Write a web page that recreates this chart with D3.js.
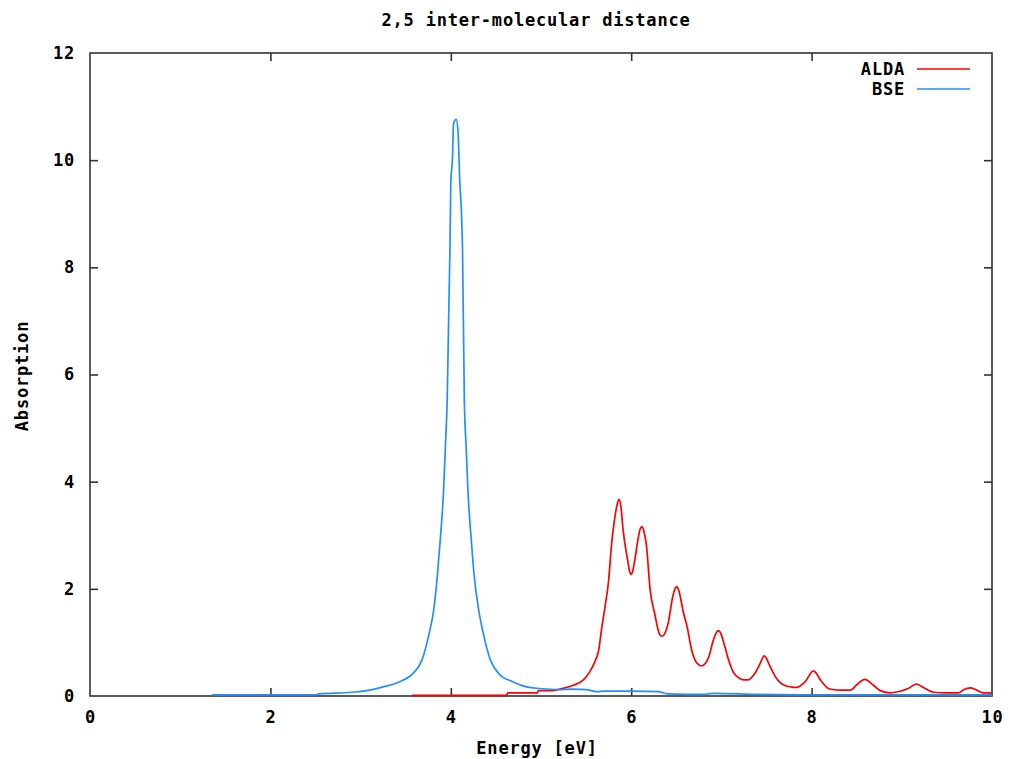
<!DOCTYPE html>
<html>
<head>
<meta charset="utf-8">
<script src="https://cdn.jsdelivr.net/npm/d3@7"></script>
<style>
  html, body { margin: 0; padding: 0; background: #fff; }
  svg text { font-family: "DejaVu Sans Mono", "Liberation Mono", monospace; font-weight: bold; fill: #000; }
</style>
</head>
<body>
<svg id="chart" width="1011" height="759"></svg>
<script>
const titleText = "2,5 inter-molecular distance";
const xLabel = "Energy [eV]";
const yLabel = "Absorption";
const seriesNames = ["ALDA", "BSE"];
const xTicks = [0, 2, 4, 6, 8, 10];
const yTicks = [0, 2, 4, 6, 8, 10, 12];

const aldaEnergy = [3.57, 4.62, 4.63, 4.96, 4.97, 5.13, 5.21, 5.36, 5.47, 5.54, 5.60, 5.64, 5.67, 5.71, 5.75, 5.78, 5.82, 5.845, 5.865, 5.885, 5.91, 5.96, 5.985, 6.00, 6.015, 6.04, 6.08, 6.10, 6.12, 6.14, 6.17, 6.21, 6.26, 6.31, 6.33, 6.35, 6.37, 6.41, 6.46, 6.485, 6.505, 6.525, 6.58, 6.62, 6.67, 6.73, 6.78, 6.86, 6.91, 6.95, 6.97, 6.99, 7.03, 7.08, 7.13, 7.21, 7.25, 7.29, 7.37, 7.43, 7.475, 7.54, 7.61, 7.71, 7.77, 7.83, 7.93, 8.02, 8.11, 8.20, 8.31, 8.43, 8.50, 8.59, 8.68, 8.76, 8.87, 8.96, 9.07, 9.16, 9.26, 9.35, 9.50, 9.63, 9.68, 9.76, 9.83, 9.90, 9.97, 10.0];
const aldaAbs = [0.01, 0.01, 0.06, 0.06, 0.10, 0.10, 0.13, 0.20, 0.30, 0.45, 0.65, 0.86, 1.23, 1.67, 2.16, 2.79, 3.35, 3.58, 3.67, 3.55, 3.10, 2.54, 2.31, 2.27, 2.32, 2.54, 2.97, 3.12, 3.16, 3.08, 2.79, 1.98, 1.54, 1.17, 1.12, 1.12, 1.16, 1.36, 1.85, 2.00, 2.04, 1.98, 1.55, 1.29, 0.86, 0.61, 0.56, 0.73, 1.04, 1.20, 1.22, 1.18, 0.97, 0.67, 0.45, 0.32, 0.30, 0.30, 0.42, 0.61, 0.75, 0.55, 0.33, 0.19, 0.17, 0.16, 0.27, 0.47, 0.27, 0.13, 0.11, 0.11, 0.21, 0.31, 0.21, 0.10, 0.06, 0.08, 0.14, 0.22, 0.14, 0.07, 0.06, 0.06, 0.11, 0.15, 0.11, 0.06, 0.06, 0.05];

const bseEnergy = [1.35, 2.0, 2.52, 2.53, 2.9, 3.1, 3.25, 3.44, 3.58, 3.68, 3.76, 3.81, 3.85, 3.88, 3.92, 3.94, 3.96, 3.99, 4.00, 4.02, 4.03, 4.06, 4.08, 4.10, 4.12, 4.13, 4.15, 4.17, 4.19, 4.23, 4.26, 4.31, 4.36, 4.44, 4.53, 4.68, 4.84, 4.99, 5.2, 5.35, 5.5, 5.62, 5.7, 6.0, 6.3, 6.4, 6.8, 6.9, 7.4, 8.0, 9.0, 10.0];
const bseAbs = [0.02, 0.02, 0.02, 0.04, 0.07, 0.11, 0.17, 0.27, 0.42, 0.67, 1.17, 1.60, 2.23, 2.85, 3.84, 4.65, 5.52, 8.3, 9.56, 10.09, 10.68, 10.76, 10.53, 9.6, 8.94, 8.32, 5.52, 4.65, 3.84, 2.85, 2.23, 1.60, 1.17, 0.67, 0.42, 0.27, 0.17, 0.14, 0.12, 0.13, 0.12, 0.08, 0.09, 0.09, 0.08, 0.04, 0.03, 0.05, 0.03, 0.02, 0.02, 0.02];

const colors = ["#ff0000", "#1e90ff"];

const svg = d3.select("#chart");
const mLeft = 90, mRight = 992, mTop = 53, mBottom = 696;

const x = d3.scaleLinear().domain([0, 10]).range([mLeft, mRight]);
const y = d3.scaleLinear().domain([0, 12]).range([mBottom, mTop]);

const axisColor = "#333";
const tickLen = 8;
const fontSize = 17;
const spacing = "0.8px";

// border
svg.append("rect")
  .attr("x", mLeft).attr("y", mTop)
  .attr("width", mRight - mLeft).attr("height", mBottom - mTop)
  .attr("fill", "none").attr("stroke", axisColor).attr("stroke-width", 1.6);

const fmt = d3.format("d");
const gx = svg.append("g").attr("transform", `translate(0,${mBottom})`)
  .call(d3.axisBottom(x).tickValues(xTicks).tickFormat(fmt).tickSize(-tickLen).tickPadding(14));
const gxTop = svg.append("g").attr("transform", `translate(0,${mTop})`)
  .call(d3.axisTop(x).tickValues(xTicks.slice(1, -1)).tickFormat("").tickSize(-tickLen));
const gy = svg.append("g").attr("transform", `translate(${mLeft},0)`)
  .call(d3.axisLeft(y).tickValues(yTicks).tickFormat(fmt).tickSize(-tickLen).tickPadding(15));
const gyR = svg.append("g").attr("transform", `translate(${mRight},0)`)
  .call(d3.axisRight(y).tickValues(yTicks.slice(1, -1)).tickFormat("").tickSize(-tickLen));

[gx, gxTop, gy, gyR].forEach(g => {
  g.select(".domain").remove();
  g.selectAll(".tick line").attr("stroke", axisColor).attr("stroke-width", 1.6);
  g.selectAll(".tick text").attr("font-size", fontSize).attr("fill", "#000")
    .style("font-family", '"DejaVu Sans Mono", monospace').style("font-weight", "bold")
    .style("letter-spacing", spacing);
});
gx.selectAll(".tick line").filter(d => d === 0 || d === 10).remove();
gy.selectAll(".tick line").filter(d => d === 0 || d === 12).remove();
gx.selectAll(".tick text").attr("dy", "0.71em").attr("y", 15);
gy.selectAll(".tick text").attr("x", -15);

// titles
function label(xp, yp, txt, rot) {
  const t = svg.append("text")
    .attr("text-anchor", "middle").attr("dominant-baseline", "central")
    .attr("font-size", fontSize).style("letter-spacing", spacing).text(txt);
  t.attr("transform", `translate(${xp},${yp})` + (rot ? " rotate(-90)" : ""));
  return t;
}
label(536, 20, titleText, false);
label(537, 748, xLabel, false);
label(22, 376, yLabel, true);

// series
const series = [
  { name: seriesNames[0], xs: aldaEnergy, ys: aldaAbs, color: colors[0] },
  { name: seriesNames[1], xs: bseEnergy, ys: bseAbs, color: colors[1] }
];
const line = d3.line().curve(d3.curveMonotoneX).x(d => x(d[0])).y(d => y(d[1]));
series.forEach(s => {
  const pts = s.xs.map((v, i) => [v, s.ys[i]]);
  svg.append("path").datum(pts).attr("d", line)
    .attr("fill", "none").attr("stroke", s.color).attr("stroke-width", 1.7);
});

// legend
series.forEach((s, i) => {
  const ly = 69 + i * 20;
  svg.append("text").attr("x", 905).attr("y", ly).attr("text-anchor", "end")
    .attr("dominant-baseline", "central").attr("font-size", fontSize)
    .style("letter-spacing", spacing).text(s.name);
  svg.append("line").attr("x1", 917).attr("x2", 970).attr("y1", ly).attr("y2", ly)
    .attr("stroke", s.color).attr("stroke-width", 1.7);
});
</script>
</body>
</html>
